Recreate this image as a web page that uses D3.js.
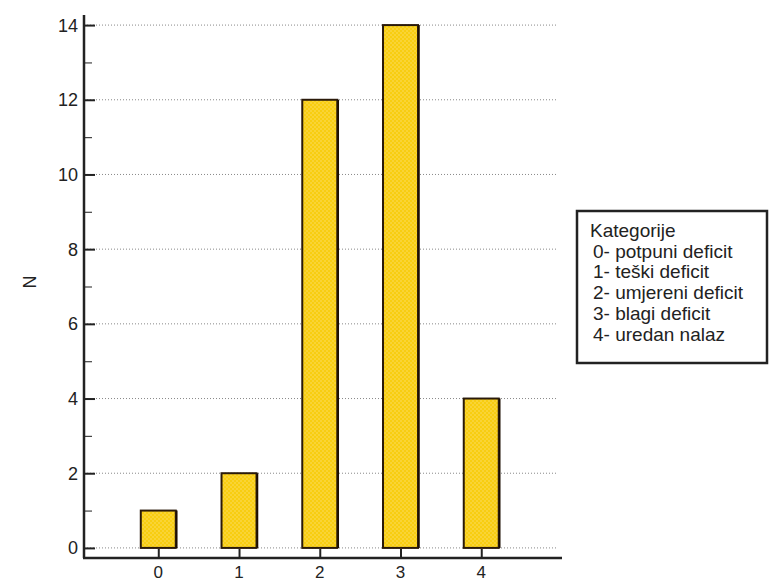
<!DOCTYPE html>
<html><head><meta charset="utf-8">
<script src="https://cdn.jsdelivr.net/npm/d3@7"></script>
<style>body{margin:0;background:#fff}svg{display:block;font-family:Arial,"Liberation Sans",sans-serif}</style>
</head><body><svg id="c" width="770" height="581"></svg>
<script>
const categories = [0, 1, 2, 3, 4];
const counts = [1, 2, 12, 14, 4];
const yTicks = [0, 2, 4, 6, 8, 10, 12, 14];
const yMinorTicks = [1, 3, 5, 7, 9, 11, 13];
const legendTitle = "Kategorije";
const legendItems = ["0- potpuni deficit", "1- teški deficit", "2- umjereni deficit", "3- blagi deficit", "4- uredan nalaz"];
const yLabel = "N";

const svg = d3.select("#c");
const defs = svg.append("defs");
const pat = defs.append("pattern").attr("id","dots").attr("width",4).attr("height",4).attr("patternUnits","userSpaceOnUse");
pat.append("rect").attr("width",4).attr("height",4).attr("fill","#F8CD10");
pat.append("circle").attr("cx",1).attr("cy",1).attr("r",0.7).attr("fill","#FCE277");
pat.append("circle").attr("cx",3).attr("cy",3).attr("r",0.7).attr("fill","#FCE277");

const x = d3.scaleLinear().domain([-0.92, 5.0]).range([84, 562]);
const y = d3.scaleLinear().domain([-0.27, 14.27]).range([558, 15]);

// gridlines
svg.append("g").selectAll("line").data(yTicks).join("line")
  .attr("x1", 84).attr("x2", 558).attr("y1", d => y(d)).attr("y2", d => y(d))
  .attr("stroke", "#888").attr("stroke-width", 1).attr("stroke-dasharray", "1,2");

// bars
const bw = 35;
svg.append("g").selectAll("rect").data(categories).join("rect")
  .attr("x", (d) => x(d) - bw/2).attr("width", bw)
  .attr("y", (d,i) => y(counts[i])).attr("height", (d,i) => y(0) - y(counts[i]))
  .attr("fill", "url(#dots)").attr("stroke", "#2a1a0a").attr("stroke-width", 2);
svg.append("g").selectAll("line").data(categories).join("line")
  .attr("x1", d => x(d) + bw/2 + 1).attr("x2", d => x(d) + bw/2 + 1)
  .attr("y1", (d,i) => y(counts[i])).attr("y2", y(0))
  .attr("stroke", "#1a0d00").attr("stroke-width", 1.5);

// y axis
const gy = svg.append("g").attr("transform", "translate(84,0)")
  .call(d3.axisRight(y).tickValues(yTicks).tickSize(11).tickFormat(""));
gy.select(".domain").remove();
gy.selectAll(".tick line").attr("stroke", "#222").attr("stroke-width", 2);
const gym = svg.append("g").attr("transform", "translate(84,0)")
  .call(d3.axisRight(y).tickValues(yMinorTicks).tickSize(8).tickFormat(""));
gym.select(".domain").remove();
gym.selectAll(".tick line").attr("stroke", "#444").attr("stroke-width", 1.2);
svg.append("line").attr("x1",84).attr("x2",84).attr("y1",y.range()[1]).attr("y2",y.range()[0]).attr("stroke","#222").attr("stroke-width",2.5);
svg.append("g").selectAll("text").data(yTicks).join("text")
  .attr("x", 78).attr("y", d => y(d)).attr("dy","0.36em").attr("text-anchor","end")
  .attr("font-size", 18).attr("fill","#222").text(d => d);

// x axis
const gx = svg.append("g").attr("transform", `translate(0,${y.range()[0]})`)
  .call(d3.axisTop(x).tickValues(categories).tickSize(9).tickFormat(""));
gx.select(".domain").remove();
gx.selectAll(".tick line").attr("stroke","#222").attr("stroke-width",2);
svg.append("line").attr("x1",83).attr("x2",x.range()[1]).attr("y1",558).attr("y2",558).attr("stroke","#222").attr("stroke-width",2.5);
svg.append("g").selectAll("text").data(categories).join("text")
  .attr("x", d => x(d)).attr("y", 578).attr("text-anchor","middle")
  .attr("font-size", 17).attr("fill","#222").text(d => d);

// y label
svg.append("text").attr("transform","translate(36,282) rotate(-90)").attr("text-anchor","middle")
  .attr("font-size",18).attr("fill","#222").text(yLabel);

// legend
const lg = svg.append("g");
lg.append("rect").attr("x",577).attr("y",211).attr("width",190).attr("height",152)
  .attr("fill","#fff").attr("stroke","#222").attr("stroke-width",2.5);
lg.append("text").attr("x",590).attr("y",237).attr("font-size",19).attr("fill","#222").text(legendTitle);
lg.selectAll(".li").data(legendItems).join("text").attr("class","li")
  .attr("x",593).attr("y",(d,i)=>257.7+i*20.7).attr("font-size",19).attr("fill","#222")
  .text(d=>d);
</script></body></html>
